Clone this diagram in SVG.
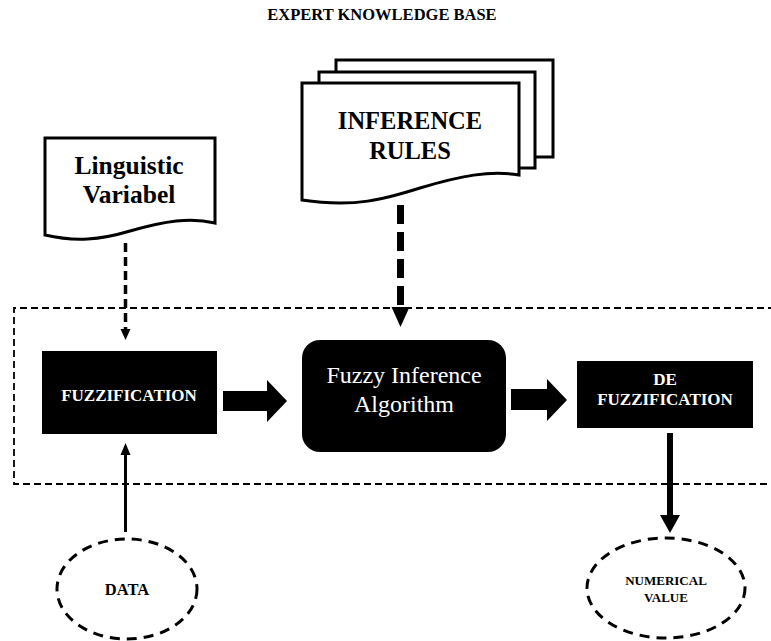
<svg xmlns="http://www.w3.org/2000/svg" width="771" height="641" viewBox="0 0 771 641" font-family="Liberation Serif, DejaVu Serif, serif">
  <style>
    text { text-anchor: middle; }
    .b { font-weight: bold; }
    .doc { fill: #fff; stroke: #000; stroke-width: 3; stroke-linejoin: miter; }
    .box { fill: #000; }
    .wt { fill: #fff; }
    .oval { fill: #fff; stroke: #000; stroke-width: 3; stroke-dasharray: 10 7; }
  </style>

  <!-- title -->
  <text id="title" class="b" x="382" y="20" font-size="16.5" font-family="Liberation Serif, serif">EXPERT KNOWLEDGE BASE</text>

  <!-- system boundary (open on the right) -->
  <path id="boundary" d="M775,308 H14 V484 H775" fill="none" stroke="#000" stroke-width="1.8" stroke-dasharray="7 4"/>

  <!-- stacked rule sheets -->
  <g id="inference-rules" font-family="Liberation Serif, serif">
    <rect class="doc" x="336" y="60" width="217" height="97"/>
    <rect class="doc" x="319" y="72" width="216" height="96"/>
    <path class="doc" d="M302,83 H519 V175 C490,170 460,176 420,188 C385,199 355,208 302,200 Z"/>
    <text class="b" x="410" y="129" font-size="24.5">INFERENCE</text>
    <text class="b" x="410" y="159" font-size="24.5">RULES</text>
  </g>

  <!-- linguistic variable document -->
  <g id="linguistic-variabel" font-family="Liberation Serif, serif">
    <path class="doc" stroke-width="2.2" d="M45,138 H215 V223 C190,217 165,221 130,231 C100,240 75,242 45,235 Z"/>
    <text class="b" x="129" y="174" font-size="25.5">Linguistic</text>
    <text class="b" x="129" y="203" font-size="25.5">Variabel</text>
  </g>

  <g id="fuzzification" font-family="Liberation Serif, serif">
    <rect class="box" x="42" y="351" width="175" height="83"/>
    <text class="b wt" x="129" y="401" font-size="17">FUZZIFICATION</text>
  </g>

  <g id="fuzzy-inference" font-family="Liberation Serif, serif">
    <rect class="box" x="302" y="340" width="204" height="112" rx="18" ry="18"/>
    <text class="wt" x="404" y="383" font-size="24">Fuzzy Inference</text>
    <text class="wt" x="404" y="412" font-size="24">Algorithm</text>
  </g>

  <g id="defuzzification" font-family="Liberation Serif, serif">
    <rect class="box" x="577" y="361" width="176" height="67"/>
    <text class="b wt" x="665" y="385" font-size="17">DE</text>
    <text class="b wt" x="665" y="405" font-size="17">FUZZIFICATION</text>
  </g>

  <g id="data" font-family="Liberation Serif, serif">
    <ellipse class="oval" cx="127" cy="589" rx="70" ry="50"/>
    <text class="b" x="127" y="595" font-size="16.5">DATA</text>
  </g>

  <g id="numerical-value" font-family="Liberation Serif, serif">
    <ellipse class="oval" cx="666" cy="588" rx="79" ry="50"/>
    <text class="b" x="666" y="585" font-size="13">NUMERICAL</text>
    <text class="b" x="666" y="602" font-size="13">VALUE</text>
  </g>

  <g id="connectors">
    <!-- linguistic variable to fuzzification -->
    <line x1="125.5" y1="243" x2="125.5" y2="330" stroke="#000" stroke-width="3.5" stroke-dasharray="9 5"/>
    <path d="M120.5,329 L130.5,329 L125.5,340 Z" fill="#000"/>

    <!-- rules to inference engine -->
    <line x1="400.5" y1="205" x2="400.5" y2="308" stroke="#000" stroke-width="7" stroke-dasharray="19 8"/>
    <path d="M391.5,307 L409.5,307 L400.5,327 Z" fill="#000"/>

    <!-- data to fuzzification -->
    <line x1="125.5" y1="532" x2="125.5" y2="452" stroke="#000" stroke-width="3"/>
    <path d="M120.5,455 L130.5,455 L125.5,443 Z" fill="#000"/>

    <!-- block arrows along the pipeline -->
    <path d="M223,391 H267 V380 L287,401 L267,422 V411 H223 Z" fill="#000"/>
    <path d="M511,389 H547 V379 L567,400 L547,421 V410 H511 Z" fill="#000"/>

    <!-- defuzzification to numerical value -->
    <line x1="670" y1="433" x2="670" y2="516" stroke="#000" stroke-width="6"/>
    <path d="M660,515 L680,515 L670,533 Z" fill="#000"/>
  </g>
</svg>
